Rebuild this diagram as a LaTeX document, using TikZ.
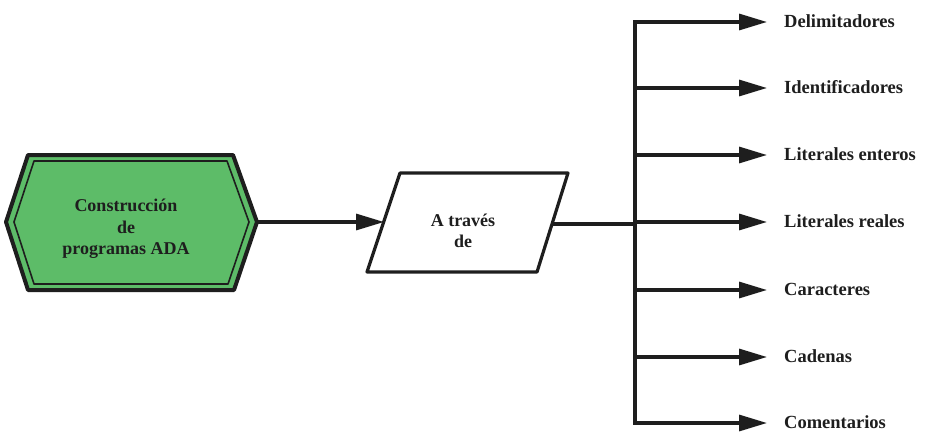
\documentclass[tikz,border=0pt]{standalone}
\usepackage{fontspec}
\setmainfont{Liberation Serif}
\usetikzlibrary{arrows.meta}
\definecolor{hexgreen}{RGB}{93,188,104}
\definecolor{ink}{RGB}{30,30,30}
\begin{document}
\begin{tikzpicture}[x=1pt,y=-1pt,
  conn/.style={draw=ink,line width=3.2pt},
  arr/.style={conn,-{Triangle[length=28pt,width=16pt]}},
  lbl/.style={anchor=west,inner sep=0pt,font=\fontsize{18.5}{20}\selectfont\bfseries,text=ink},
  ctext/.style={align=center,inner sep=0pt,font=\fontsize{18}{21.5}\selectfont\bfseries,text=ink}]
\useasboundingbox[fill=white] (0,0) rectangle (926,436);
% hexagon
\draw[ink,line width=4pt,fill=hexgreen,line join=round] (6,222) -- (28,155) -- (233,155) -- (257,222) -- (234,290) -- (28,290) -- cycle;
\draw[ink,line width=1.6pt,line join=round] (14,222) -- (34,161) -- (227,161) -- (249,222) -- (228,284) -- (34,284) -- cycle;
\node[ctext] (hex) at (126,229) {Construcción\\de\\programas ADA};
\coordinate (hexR) at (257,222);
% parallelogram
\draw[ink,line width=3.2pt,line join=round] (400,173) -- (568,173) -- (537,272) -- (367,272) -- cycle;
\node[ctext] (par) at (463,231) {A través\\de};
\coordinate (parL) at (384,222);
\coordinate (parR) at (552,224);
\draw[arr] (hexR) -- (parL);
% bus
\coordinate (busT) at (635,22);
\coordinate (busB) at (635,423);
\coordinate (bj) at (635,224);
\draw[conn,line cap=rect] (busT) -- (busB);
\draw[conn] (parR) -- (bj);
% labels and arrows
\foreach \i/\y/\t in {1/22/Delimitadores,2/88/Identificadores,3/155/Literales enteros,4/222/Literales reales,5/290/Caracteres,6/357/Cadenas,7/423/Comentarios}{
  \coordinate (b\i) at (635,\y);
  \node[lbl] (l\i) at (784,\y-1) {\t};
  \draw[arr,shorten >=17pt] (b\i) -- (b\i -| l\i.west);
}
\end{tikzpicture}
\end{document}
